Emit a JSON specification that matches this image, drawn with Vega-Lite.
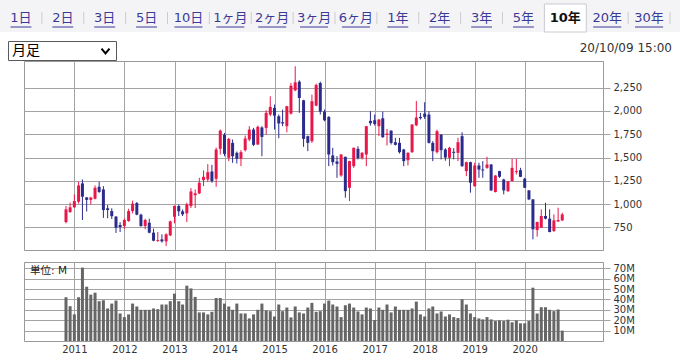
{
  "$schema": "https://vega.github.io/schema/vega-lite/v6.json",
  "padding": 0,
  "background": "#ffffff",
  "spacing": 12,
  "bounds": "flush",
  "config": {
    "view": {"stroke": null},
    "font": "DejaVu Sans",
    "axis": {"labelFont": "DejaVu Sans", "labelFontSize": 10, "labelColor": "#333333", "gridColor": "#a3a3a3", "tickColor": "#a3a3a3", "domain": false}
  },
  "datasets": {
    "tabs": [
      {"tab": "1日"}, {"tab": "2日"}, {"tab": "3日"}, {"tab": "5日"}, {"tab": "10日"},
      {"tab": "1ヶ月"}, {"tab": "2ヶ月"}, {"tab": "3ヶ月"}, {"tab": "6ヶ月"},
      {"tab": "1年"}, {"tab": "2年"}, {"tab": "3年"}, {"tab": "5年"}, {"tab": "10年"}, {"tab": "20年"}, {"tab": "30年"}
    ],
    "stock": [
      {"date": "2010-11-01", "open": 807, "high": 979, "low": 793, "close": 943, "volume": 42.1},
      {"date": "2010-12-01", "open": 915, "high": 1015, "low": 905, "close": 965, "volume": 33.5},
      {"date": "2011-01-01", "open": 965, "high": 1104, "low": 960, "close": 1032, "volume": 25.6},
      {"date": "2011-02-01", "open": 1025, "high": 1240, "low": 1005, "close": 1200, "volume": 42.1},
      {"date": "2011-03-01", "open": 1222, "high": 1264, "low": 829, "close": 1079, "volume": 70.6},
      {"date": "2011-04-01", "open": 1072, "high": 1075, "low": 920, "close": 1045, "volume": 52.2},
      {"date": "2011-05-01", "open": 1045, "high": 1078, "low": 995, "close": 1070, "volume": 44.6},
      {"date": "2011-06-01", "open": 1057, "high": 1200, "low": 1050, "close": 1175, "volume": 46.5},
      {"date": "2011-07-01", "open": 1186, "high": 1240, "low": 1120, "close": 1130, "volume": 38.3},
      {"date": "2011-08-01", "open": 1157, "high": 1193, "low": 852, "close": 936, "volume": 39.2},
      {"date": "2011-09-01", "open": 955, "high": 990, "low": 848, "close": 936, "volume": 31.3},
      {"date": "2011-10-01", "open": 925, "high": 955, "low": 840, "close": 870, "volume": 36.0},
      {"date": "2011-11-01", "open": 866, "high": 870, "low": 690, "close": 747, "volume": 38.9},
      {"date": "2011-12-01", "open": 775, "high": 805, "low": 700, "close": 754, "volume": 26.5},
      {"date": "2012-01-01", "open": 764, "high": 845, "low": 735, "close": 829, "volume": 23.0},
      {"date": "2012-02-01", "open": 818, "high": 950, "low": 810, "close": 925, "volume": 25.6},
      {"date": "2012-03-01", "open": 925, "high": 1036, "low": 900, "close": 1004, "volume": 36.0},
      {"date": "2012-04-01", "open": 1011, "high": 1022, "low": 880, "close": 886, "volume": 33.2},
      {"date": "2012-05-01", "open": 886, "high": 896, "low": 757, "close": 764, "volume": 30.0},
      {"date": "2012-06-01", "open": 764, "high": 843, "low": 729, "close": 829, "volume": 30.0},
      {"date": "2012-07-01", "open": 800, "high": 843, "low": 686, "close": 693, "volume": 30.0},
      {"date": "2012-08-01", "open": 693, "high": 736, "low": 600, "close": 607, "volume": 31.3},
      {"date": "2012-09-01", "open": 605, "high": 700, "low": 593, "close": 614, "volume": 30.6},
      {"date": "2012-10-01", "open": 621, "high": 675, "low": 586, "close": 600, "volume": 35.1},
      {"date": "2012-11-01", "open": 600, "high": 686, "low": 550, "close": 675, "volume": 35.1},
      {"date": "2012-12-01", "open": 664, "high": 822, "low": 657, "close": 814, "volume": 38.3},
      {"date": "2013-01-01", "open": 864, "high": 986, "low": 793, "close": 979, "volume": 45.6},
      {"date": "2013-02-01", "open": 979, "high": 997, "low": 872, "close": 922, "volume": 38.3},
      {"date": "2013-03-01", "open": 922, "high": 943, "low": 872, "close": 890, "volume": 35.1},
      {"date": "2013-04-01", "open": 900, "high": 1015, "low": 807, "close": 997, "volume": 53.2},
      {"date": "2013-05-01", "open": 979, "high": 1172, "low": 957, "close": 1136, "volume": 50.6},
      {"date": "2013-06-01", "open": 1095, "high": 1157, "low": 957, "close": 1115, "volume": 42.4},
      {"date": "2013-07-01", "open": 1115, "high": 1282, "low": 1107, "close": 1229, "volume": 27.5},
      {"date": "2013-08-01", "open": 1257, "high": 1361, "low": 1193, "close": 1293, "volume": 27.5},
      {"date": "2013-09-01", "open": 1264, "high": 1429, "low": 1236, "close": 1343, "volume": 25.6},
      {"date": "2013-10-01", "open": 1350, "high": 1421, "low": 1229, "close": 1247, "volume": 28.1},
      {"date": "2013-11-01", "open": 1272, "high": 1607, "low": 1186, "close": 1586, "volume": 41.4},
      {"date": "2013-12-01", "open": 1593, "high": 1800, "low": 1532, "close": 1789, "volume": 41.4},
      {"date": "2014-01-01", "open": 1743, "high": 1764, "low": 1514, "close": 1539, "volume": 36.0},
      {"date": "2014-02-01", "open": 1497, "high": 1711, "low": 1461, "close": 1700, "volume": 33.2},
      {"date": "2014-03-01", "open": 1657, "high": 1693, "low": 1443, "close": 1514, "volume": 30.0},
      {"date": "2014-04-01", "open": 1550, "high": 1564, "low": 1436, "close": 1486, "volume": 36.0},
      {"date": "2014-05-01", "open": 1486, "high": 1579, "low": 1407, "close": 1557, "volume": 26.5},
      {"date": "2014-06-01", "open": 1579, "high": 1736, "low": 1564, "close": 1704, "volume": 26.5},
      {"date": "2014-07-01", "open": 1693, "high": 1836, "low": 1675, "close": 1800, "volume": 21.7},
      {"date": "2014-08-01", "open": 1800, "high": 1818, "low": 1622, "close": 1636, "volume": 25.6},
      {"date": "2014-09-01", "open": 1639, "high": 1843, "low": 1636, "close": 1829, "volume": 30.0},
      {"date": "2014-10-01", "open": 1822, "high": 1836, "low": 1514, "close": 1721, "volume": 36.0},
      {"date": "2014-11-01", "open": 1818, "high": 2007, "low": 1746, "close": 1979, "volume": 29.4},
      {"date": "2014-12-01", "open": 1961, "high": 2157, "low": 1943, "close": 2043, "volume": 28.7},
      {"date": "2015-01-01", "open": 2032, "high": 2068, "low": 1800, "close": 1950, "volume": 23.6},
      {"date": "2015-02-01", "open": 1943, "high": 1961, "low": 1707, "close": 1864, "volume": 35.1},
      {"date": "2015-03-01", "open": 1879, "high": 2014, "low": 1836, "close": 1866, "volume": 28.7},
      {"date": "2015-04-01", "open": 1836, "high": 2055, "low": 1771, "close": 2050, "volume": 32.2},
      {"date": "2015-05-01", "open": 1971, "high": 2300, "low": 1961, "close": 2271, "volume": 22.7},
      {"date": "2015-06-01", "open": 2221, "high": 2479, "low": 2211, "close": 2307, "volume": 33.2},
      {"date": "2015-07-01", "open": 2314, "high": 2329, "low": 1979, "close": 2139, "volume": 27.5},
      {"date": "2015-08-01", "open": 2114, "high": 2120, "low": 1614, "close": 1700, "volume": 26.5},
      {"date": "2015-09-01", "open": 1729, "high": 1735, "low": 1568, "close": 1657, "volume": 32.2},
      {"date": "2015-10-01", "open": 1675, "high": 2175, "low": 1657, "close": 2104, "volume": 36.7},
      {"date": "2015-11-01", "open": 2057, "high": 2293, "low": 2050, "close": 2279, "volume": 28.1},
      {"date": "2015-12-01", "open": 2300, "high": 2314, "low": 1961, "close": 1993, "volume": 28.7},
      {"date": "2016-01-01", "open": 1993, "high": 2014, "low": 1889, "close": 1900, "volume": 36.0},
      {"date": "2016-02-01", "open": 1936, "high": 1943, "low": 1407, "close": 1532, "volume": 38.9},
      {"date": "2016-03-01", "open": 1522, "high": 1604, "low": 1414, "close": 1450, "volume": 35.1},
      {"date": "2016-04-01", "open": 1457, "high": 1514, "low": 1282, "close": 1432, "volume": 33.2},
      {"date": "2016-05-01", "open": 1307, "high": 1536, "low": 1293, "close": 1532, "volume": 23.0},
      {"date": "2016-06-01", "open": 1507, "high": 1510, "low": 1068, "close": 1139, "volume": 34.4},
      {"date": "2016-07-01", "open": 1175, "high": 1465, "low": 1032, "close": 1461, "volume": 36.0},
      {"date": "2016-08-01", "open": 1407, "high": 1607, "low": 1389, "close": 1604, "volume": 32.2},
      {"date": "2016-09-01", "open": 1593, "high": 1621, "low": 1479, "close": 1493, "volume": 28.4},
      {"date": "2016-10-01", "open": 1496, "high": 1560, "low": 1479, "close": 1550, "volume": 25.6},
      {"date": "2016-11-01", "open": 1532, "high": 1840, "low": 1407, "close": 1836, "volume": 32.2},
      {"date": "2016-12-01", "open": 1893, "high": 1996, "low": 1843, "close": 1868, "volume": 31.3},
      {"date": "2017-01-01", "open": 1900, "high": 1961, "low": 1843, "close": 1860, "volume": 20.2},
      {"date": "2017-02-01", "open": 1836, "high": 1915, "low": 1729, "close": 1907, "volume": 32.2},
      {"date": "2017-03-01", "open": 1921, "high": 1993, "low": 1711, "close": 1718, "volume": 30.0},
      {"date": "2017-04-01", "open": 1743, "high": 1807, "low": 1629, "close": 1757, "volume": 35.1},
      {"date": "2017-05-01", "open": 1789, "high": 1790, "low": 1639, "close": 1657, "volume": 27.5},
      {"date": "2017-06-01", "open": 1664, "high": 1711, "low": 1629, "close": 1636, "volume": 33.2},
      {"date": "2017-07-01", "open": 1657, "high": 1711, "low": 1543, "close": 1557, "volume": 30.0},
      {"date": "2017-08-01", "open": 1586, "high": 1593, "low": 1407, "close": 1461, "volume": 30.0},
      {"date": "2017-09-01", "open": 1471, "high": 1557, "low": 1414, "close": 1550, "volume": 30.0},
      {"date": "2017-10-01", "open": 1557, "high": 1857, "low": 1550, "close": 1854, "volume": 31.3},
      {"date": "2017-11-01", "open": 1846, "high": 2107, "low": 1836, "close": 1929, "volume": 37.9},
      {"date": "2017-12-01", "open": 1936, "high": 1979, "low": 1907, "close": 1922, "volume": 25.6},
      {"date": "2018-01-01", "open": 1971, "high": 2093, "low": 1914, "close": 1936, "volume": 23.6},
      {"date": "2018-02-01", "open": 1961, "high": 1996, "low": 1650, "close": 1657, "volume": 31.3},
      {"date": "2018-03-01", "open": 1657, "high": 1675, "low": 1461, "close": 1568, "volume": 33.2},
      {"date": "2018-04-01", "open": 1557, "high": 1800, "low": 1543, "close": 1782, "volume": 26.5},
      {"date": "2018-05-01", "open": 1746, "high": 1750, "low": 1479, "close": 1579, "volume": 28.4},
      {"date": "2018-06-01", "open": 1586, "high": 1600, "low": 1465, "close": 1500, "volume": 23.6},
      {"date": "2018-07-01", "open": 1497, "high": 1615, "low": 1407, "close": 1604, "volume": 25.6},
      {"date": "2018-08-01", "open": 1561, "high": 1600, "low": 1480, "close": 1550, "volume": 23.0},
      {"date": "2018-09-01", "open": 1550, "high": 1711, "low": 1461, "close": 1664, "volume": 22.1},
      {"date": "2018-10-01", "open": 1729, "high": 1771, "low": 1400, "close": 1407, "volume": 40.2},
      {"date": "2018-11-01", "open": 1354, "high": 1455, "low": 1300, "close": 1450, "volume": 35.1},
      {"date": "2018-12-01", "open": 1450, "high": 1455, "low": 1122, "close": 1229, "volume": 26.5},
      {"date": "2019-01-01", "open": 1193, "high": 1443, "low": 1186, "close": 1414, "volume": 23.0},
      {"date": "2019-02-01", "open": 1414, "high": 1443, "low": 1282, "close": 1371, "volume": 21.7},
      {"date": "2019-03-01", "open": 1371, "high": 1461, "low": 1282, "close": 1361, "volume": 20.8},
      {"date": "2019-04-01", "open": 1389, "high": 1507, "low": 1379, "close": 1425, "volume": 23.0},
      {"date": "2019-05-01", "open": 1425, "high": 1430, "low": 1140, "close": 1147, "volume": 20.8},
      {"date": "2019-06-01", "open": 1129, "high": 1310, "low": 1125, "close": 1307, "volume": 19.2},
      {"date": "2019-07-01", "open": 1354, "high": 1357, "low": 1282, "close": 1293, "volume": 19.8},
      {"date": "2019-08-01", "open": 1264, "high": 1272, "low": 1104, "close": 1147, "volume": 19.2},
      {"date": "2019-09-01", "open": 1139, "high": 1250, "low": 1130, "close": 1246, "volume": 20.5},
      {"date": "2019-10-01", "open": 1246, "high": 1486, "low": 1243, "close": 1389, "volume": 18.0},
      {"date": "2019-11-01", "open": 1343, "high": 1486, "low": 1318, "close": 1354, "volume": 19.8},
      {"date": "2019-12-01", "open": 1364, "high": 1389, "low": 1289, "close": 1293, "volume": 17.0},
      {"date": "2020-01-01", "open": 1272, "high": 1282, "low": 1172, "close": 1175, "volume": 17.0},
      {"date": "2020-02-01", "open": 1147, "high": 1150, "low": 1043, "close": 1050, "volume": 19.2},
      {"date": "2020-03-01", "open": 1050, "high": 1055, "low": 622, "close": 729, "volume": 51.3},
      {"date": "2020-04-01", "open": 722, "high": 812, "low": 650, "close": 807, "volume": 26.5},
      {"date": "2020-05-01", "open": 747, "high": 943, "low": 745, "close": 872, "volume": 32.5},
      {"date": "2020-06-01", "open": 872, "high": 1015, "low": 836, "close": 843, "volume": 32.5},
      {"date": "2020-07-01", "open": 843, "high": 943, "low": 697, "close": 700, "volume": 30.0},
      {"date": "2020-08-01", "open": 711, "high": 889, "low": 700, "close": 825, "volume": 28.7},
      {"date": "2020-09-01", "open": 814, "high": 961, "low": 807, "close": 829, "volume": 30.3},
      {"date": "2020-10-01", "open": 825, "high": 907, "low": 818, "close": 889, "volume": 10.0}
    ]
  },
  "vconcat": [
    {
      "width": 656,
      "height": 49,
      "data": {"name": "tabs"},
      "layer": [
        {
          "data": {"values": [{}]},
          "mark": {"type": "rect", "fill": "#f4f4f7"},
          "encoding": {"x": {"value": -24}, "x2": {"value": 656}, "y": {"value": 0}, "y2": {"value": 32}}
        },
        {
          "transform": [{"filter": "datum.tab === '10年'"}],
          "mark": {"type": "rect", "fill": "#ffffff", "stroke": "#c9c9d2", "strokeWidth": 1},
          "encoding": {
            "x": {"field": "tab", "type": "nominal", "scale": {"type": "band", "domain": ["1日","2日","3日","5日","10日","1ヶ月","2ヶ月","3ヶ月","6ヶ月","1年","2年","3年","5年","10年","20年","30年"], "range": [-24, 646], "paddingInner": 0, "paddingOuter": 0}, "axis": null},
            "y": {"value": 4},
            "y2": {"value": 32}
          }
        },
        {
          "transform": [{"filter": "datum.tab !== '10年' && datum.tab !== '5年'"}],
          "mark": {"type": "rule", "stroke": "#cccccc", "strokeWidth": 1},
          "encoding": {
            "x": {"field": "tab", "type": "nominal", "bandPosition": 1},
            "y": {"value": 12},
            "y2": {"value": 24}
          }
        },
        {
          "transform": [{"filter": "datum.tab !== '10年'"}],
          "mark": {"type": "text", "align": "center", "baseline": "middle", "fontSize": 13, "font": "DejaVu Sans, Noto Sans CJK JP", "fill": "#3a3a96"},
          "encoding": {
            "x": {"field": "tab", "type": "nominal"},
            "y": {"value": 18},
            "text": {"field": "tab"}
          }
        },
        {
          "transform": [{"filter": "datum.tab !== '10年' && length(datum.tab) === 2"}],
          "mark": {"type": "bar", "width": {"band": 0.5}, "fill": "#3a3a96"},
          "encoding": {
            "x": {"field": "tab", "type": "nominal"},
            "y": {"value": 26.5},
            "y2": {"value": 27.5}
          }
        },
        {
          "transform": [{"filter": "datum.tab !== '10年' && length(datum.tab) === 3"}],
          "mark": {"type": "bar", "width": {"band": 0.67}, "fill": "#3a3a96"},
          "encoding": {
            "x": {"field": "tab", "type": "nominal"},
            "y": {"value": 26.5},
            "y2": {"value": 27.5}
          }
        },
        {
          "transform": [{"filter": "datum.tab === '10年'"}],
          "mark": {"type": "text", "align": "center", "baseline": "middle", "fontSize": 13, "fontWeight": "bold", "font": "DejaVu Sans, Noto Sans CJK JP", "fill": "#111111"},
          "encoding": {
            "x": {"field": "tab", "type": "nominal"},
            "y": {"value": 18},
            "text": {"field": "tab"}
          }
        },
        {
          "data": {"values": [{"label": "20/10/09 15:00"}]},
          "mark": {"type": "text", "align": "right", "baseline": "middle", "fontSize": 12, "font": "DejaVu Sans", "fill": "#333333"},
          "encoding": {"x": {"value": 648}, "y": {"value": 48}, "text": {"field": "label"}}
        },
        {
          "data": {"values": [{"label": "月足"}]},
          "mark": {"type": "rect", "fill": "#ffffff", "stroke": "#5a5a5a", "strokeWidth": 1},
          "encoding": {"x": {"value": -15.5}, "x2": {"value": 92.5}, "y": {"value": 41.5}, "y2": {"value": 60.5}}
        },
        {
          "data": {"values": [{"label": "月足"}]},
          "mark": {"type": "text", "align": "left", "baseline": "middle", "fontSize": 14, "font": "Noto Sans CJK JP", "fill": "#000000"},
          "encoding": {"x": {"value": -12}, "y": {"value": 51}, "text": {"field": "label"}}
        },
        {
          "data": {"values": [{"label": "月足"}]},
          "mark": {"type": "point", "shape": "M-1,-0.6L0,0.6L1,-0.6", "size": 64, "filled": false, "stroke": "#000000", "strokeWidth": 2, "opacity": 1},
          "encoding": {"x": {"value": 81.5}, "y": {"value": 51}}
        }
      ]
    },
    {
      "width": 579,
      "height": 189,
      "view": {"stroke": "#999999", "strokeWidth": 1},
      "data": {"name": "stock"},
      "encoding": {
        "x": {
          "field": "date", "type": "temporal",
          "scale": {"type": "utc", "domain": [{"year": 2010, "month": 2, "date": 4, "utc": true}, {"year": 2021, "month": 6, "date": 19, "utc": true}]},
          "axis": {"labels": false, "ticks": false, "domain": false, "grid": true, "title": null, "tickCount": 20,
            "values": [{"year": 2011, "month": 1, "date": 1, "utc": true}, {"year": 2012, "month": 1, "date": 1, "utc": true}, {"year": 2013, "month": 1, "date": 1, "utc": true}, {"year": 2014, "month": 1, "date": 1, "utc": true}, {"year": 2015, "month": 1, "date": 1, "utc": true}, {"year": 2016, "month": 1, "date": 1, "utc": true}, {"year": 2017, "month": 1, "date": 1, "utc": true}, {"year": 2018, "month": 1, "date": 1, "utc": true}, {"year": 2019, "month": 1, "date": 1, "utc": true}, {"year": 2020, "month": 1, "date": 1, "utc": true}]}
        },
        "color": {"condition": {"test": "datum.close >= datum.open", "value": "#e8174a"}, "value": "#2b2b8c"}
      },
      "layer": [
        {
          "mark": {"type": "rule", "strokeWidth": 1},
          "encoding": {
            "y": {
              "field": "low", "type": "quantitative",
              "scale": {"domain": [507, 2536], "nice": false, "zero": false},
              "axis": {"orient": "right", "values": [750, 1000, 1250, 1500, 1750, 2000, 2250], "tickCount": 20, "labelExpr": "format(datum.value, ',')", "labelOverlap": false, "grid": true, "tickSize": 7, "labelPadding": 3, "domain": false, "title": null}
            },
            "y2": {"field": "high"}
          }
        },
        {
          "mark": {"type": "bar", "size": 3},
          "encoding": {
            "y": {"field": "open", "type": "quantitative"},
            "y2": {"field": "close"}
          }
        }
      ]
    },
    {
      "width": 579,
      "height": 79,
      "view": {"stroke": "#999999", "strokeWidth": 1},
      "layer": [
        {
          "data": {"name": "stock"},
          "mark": {"type": "bar", "size": 3, "fill": "#666666"},
          "encoding": {
            "x": {
              "field": "date", "type": "temporal",
              "scale": {"type": "utc", "domain": [{"year": 2010, "month": 2, "date": 4, "utc": true}, {"year": 2021, "month": 6, "date": 19, "utc": true}]},
              "axis": {"orient": "bottom", "format": "%Y", "formatType": "utc", "labels": true, "ticks": false, "domain": false, "grid": true, "labelPadding": 3, "labelFlush": false, "labelOverlap": false, "title": null, "tickCount": 20,
                "values": [{"year": 2011, "month": 1, "date": 1, "utc": true}, {"year": 2012, "month": 1, "date": 1, "utc": true}, {"year": 2013, "month": 1, "date": 1, "utc": true}, {"year": 2014, "month": 1, "date": 1, "utc": true}, {"year": 2015, "month": 1, "date": 1, "utc": true}, {"year": 2016, "month": 1, "date": 1, "utc": true}, {"year": 2017, "month": 1, "date": 1, "utc": true}, {"year": 2018, "month": 1, "date": 1, "utc": true}, {"year": 2019, "month": 1, "date": 1, "utc": true}, {"year": 2020, "month": 1, "date": 1, "utc": true}]}
            },
            "y": {
              "field": "volume", "type": "quantitative",
              "scale": {"domain": [0, 76], "nice": false},
              "axis": {"orient": "right", "values": [10, 20, 30, 40, 50, 60, 70], "tickCount": 20, "labelExpr": "datum.value + 'M'", "labelOverlap": false, "grid": true, "tickSize": 7, "labelPadding": 3, "domain": false, "title": null}
            }
          }
        },
        {
          "data": {"values": [{"label": "単位: M"}]},
          "mark": {"type": "text", "align": "left", "baseline": "middle", "fontSize": 10.5, "font": "DejaVu Sans, Noto Sans CJK JP", "fill": "#222222"},
          "encoding": {"x": {"value": 6}, "y": {"value": 9}, "text": {"field": "label"}}
        }
      ]
    }
  ]
}
